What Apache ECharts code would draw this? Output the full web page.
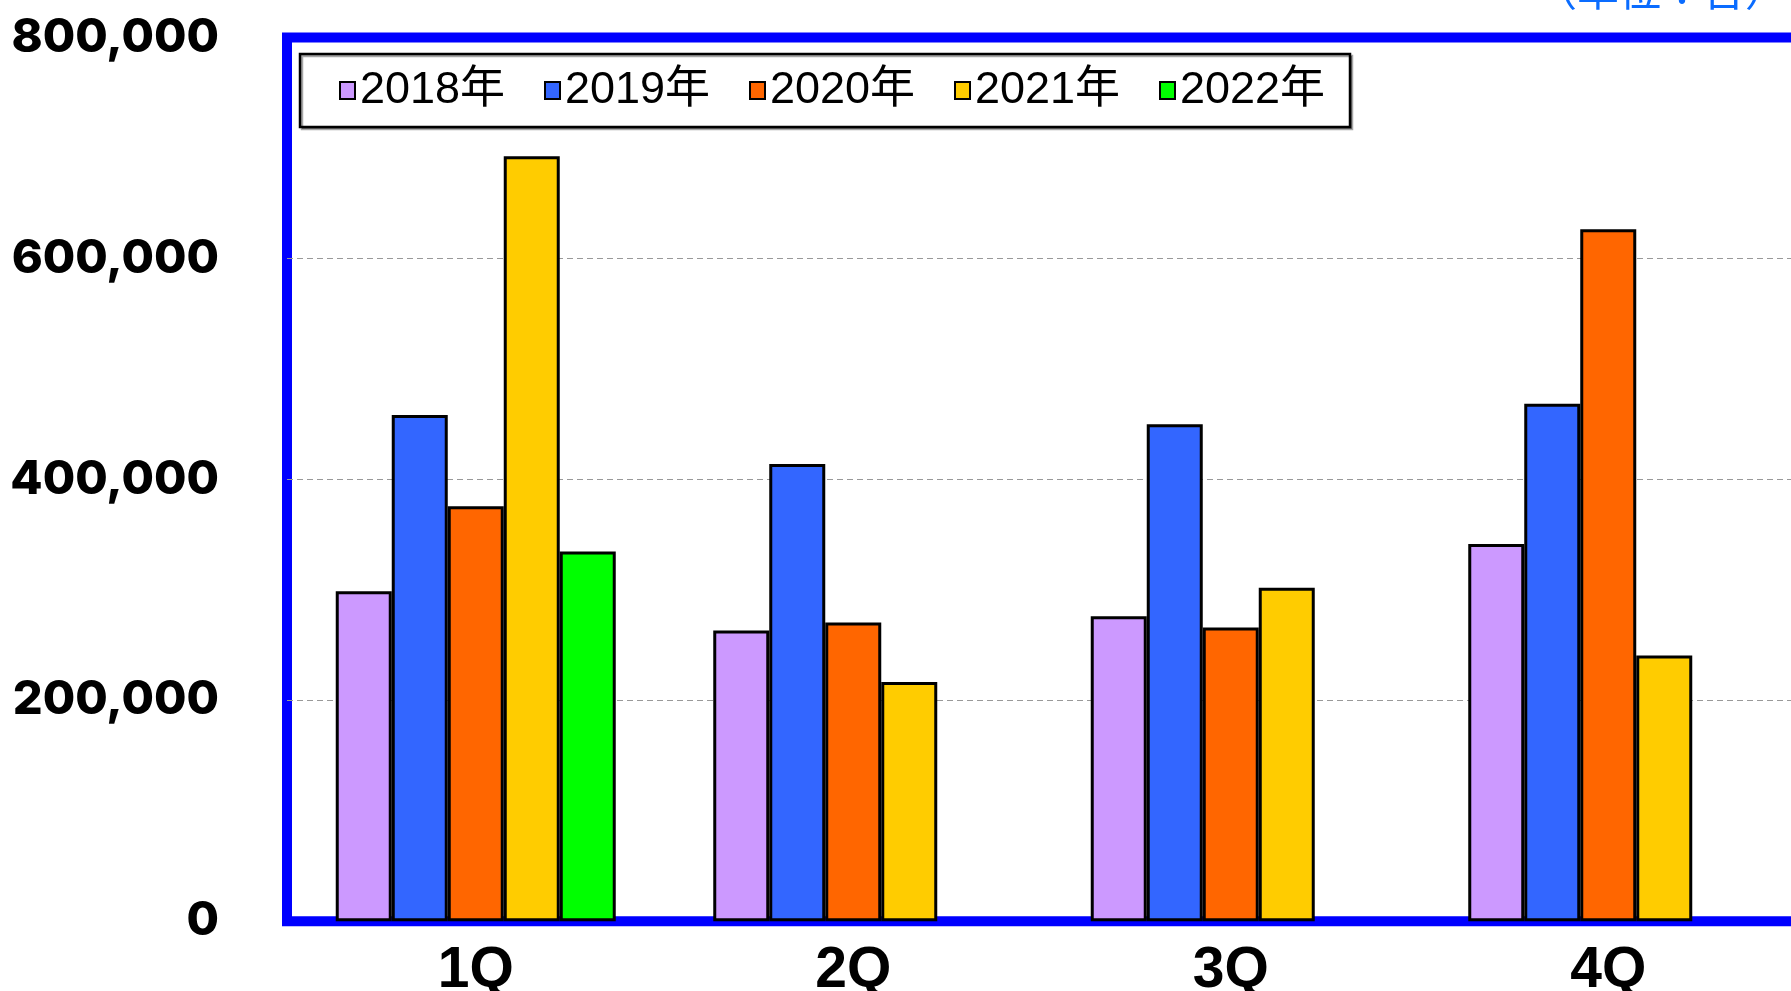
<!DOCTYPE html>
<html>
<head>
<meta charset="utf-8">
<script src="https://cdn.jsdelivr.net/npm/echarts@6/dist/echarts.min.js"></script>
<style>
  html, body { margin: 0; padding: 0; background: #fff; }
  #chart { width: 1791px; height: 991px; }
</style>
</head>
<body>
<div id="chart"></div>
<script>
const categories = ['1Q', '2Q', '3Q', '4Q'];
const seriesNames = ['2018年', '2019年', '2020年', '2021年', '2022年'];
const values2018 = [298800, 263300, 276200, 341600];
const values2019 = [458400, 413900, 450000, 468400];
const values2020 = [375600, 270500, 266000, 626500];
const values2021 = [692400, 216600, 301900, 240700];
const values2022 = [334700, null, null, null];
const yTickLabels = ['0', '200,000', '400,000', '600,000', '800,000'];
const unitLabel = '（単位：台）';

const seriesValues = [values2018, values2019, values2020, values2021, values2022];
const seriesColors = ['#CC99FF', '#3366FF', '#FF6600', '#FFCC00', '#00FF00'];

const chart = echarts.init(document.getElementById('chart'), null, { renderer: 'canvas' });

const option = {
  animation: false,
  backgroundColor: '#ffffff',
  grid: {
    left: 287,
    right: -6,
    top: 37.5,
    bottom: 69.7,
    outerBoundsMode: 'none',
    containLabel: false,
    show: true,
    borderColor: '#0000FF',
    borderWidth: 10,
    backgroundColor: 'transparent'
  },
  legend: {
    data: seriesNames,
    left: 300,
    top: 54,
    orient: 'horizontal',
    padding: [14, 24, 14, 39],
    itemWidth: 15,
    itemHeight: 17,
    itemGap: 38,
    icon: 'rect',
    borderColor: '#000',
    borderWidth: 2.5,
    backgroundColor: '#fff',
    shadowColor: 'rgba(0,0,0,0.35)',
    shadowOffsetX: 2,
    shadowOffsetY: 2,
    shadowBlur: 0,
    itemStyle: { borderColor: '#000', borderWidth: 2 },
    textStyle: {
      fontSize: 45,
      fontFamily: '"Liberation Sans", "Noto Sans CJK JP", sans-serif',
      color: '#000',
      width: 146,
      lineHeight: 44
    }
  },
  xAxis: {
    type: 'category',
    data: categories,
    axisLine: { show: false },
    axisTick: { show: false },
    axisLabel: {
      margin: 21,
      fontSize: 57,
      fontWeight: 'bold',
      fontFamily: '"Liberation Sans", Arial, sans-serif',
      color: '#000'
    }
  },
  yAxis: {
    type: 'value',
    min: 0,
    max: 800000,
    interval: 200000,
    axisLine: { show: false },
    axisTick: { show: false },
    splitLine: {
      show: true,
      showMinLine: false,
      showMaxLine: false,
      lineStyle: { color: '#999', width: 1, type: [6, 4] }
    },
    axisLabel: {
      margin: 68,
      fontSize: 47,
      fontWeight: 800,
      fontFamily: 'Inter, "Open Sans", sans-serif',
      color: '#000',
      formatter: function (v) { return yTickLabels[Math.round(v / 200000)]; }
    }
  },
  graphic: [{
    type: 'text',
    right: 4,
    top: -31,
    style: {
      text: unitLabel,
      fontSize: 42,
      fontFamily: '"Noto Sans CJK JP", sans-serif',
      fill: '#0a6cff'
    }
  }],
  series: seriesNames.map(function (name, i) {
    return {
      name: name,
      type: 'bar',
      data: seriesValues[i],
      barWidth: 56,
      barGap: '0%',
      itemStyle: {
        color: seriesColors[i],
        borderColor: '#000',
        borderWidth: 3
      }
    };
  })
};

chart.setOption(option);
</script>
</body>
</html>
